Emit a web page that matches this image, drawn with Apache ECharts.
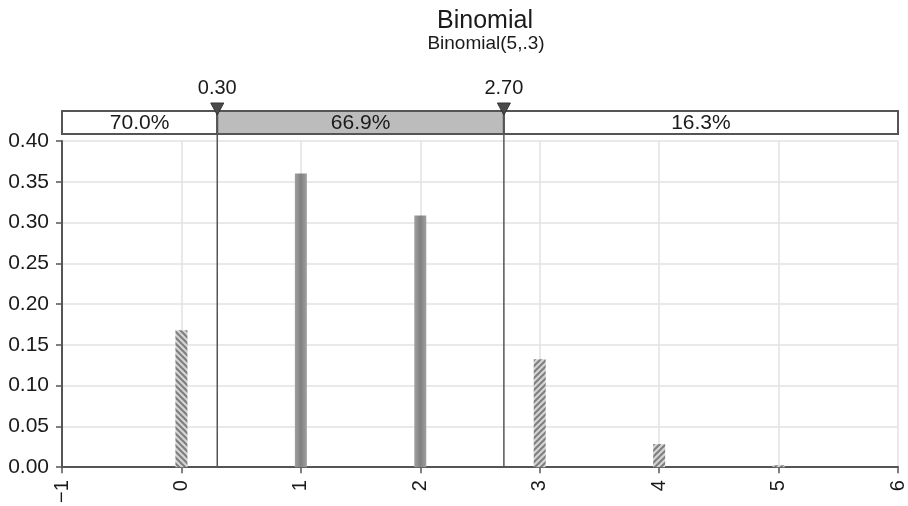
<!DOCTYPE html>
<html>
<head>
<meta charset="utf-8">
<title>Binomial</title>
<script src="https://cdn.jsdelivr.net/npm/echarts@6/dist/echarts.min.js"></script>
<style>
  html, body { margin: 0; padding: 0; background: #fff; }
  #chart { width: 908px; height: 506px; }
</style>
</head>
<body>
<div id="chart"></div>
<script>
// Binomial(5, 0.3) probability mass function
const outcomes = [0, 1, 2, 3, 4, 5];
const probabilities = [0.16807, 0.36015, 0.3087, 0.1323, 0.02835, 0.00243];

// Interval cut-offs and the shares shown in the band above the plot
const cutoffs = [0.30, 2.70];
const cutoffLabels = ['0.30', '2.70'];
const regionBounds = [[-1, 0.30], [0.30, 2.70], [2.70, 6]];
const regionLabels = ['70.0%', '66.9%', '16.3%'];
const regionShaded = [false, true, false];

const xMin = -1, xMax = 6, xStep = 1;
const yMin = 0, yMax = 0.40, yStep = 0.05;

const FONT = '"Liberation Sans", Arial, Helvetica, sans-serif';

// Hatched fills for bars outside the interval
function hatch(direction) {
  const s = 6;
  const c = document.createElement('canvas');
  c.width = s; c.height = s;
  const g = c.getContext('2d');
  g.fillStyle = '#d4d4d4';
  g.fillRect(0, 0, s, s);
  g.strokeStyle = '#7e7e7e';
  g.lineWidth = 2;
  g.beginPath();
  if (direction === 'back') {
    g.moveTo(-1, -1); g.lineTo(s + 1, s + 1);
    g.moveTo(-1, s - 1); g.lineTo(1, s + 1);
    g.moveTo(s - 1, -1); g.lineTo(s + 1, 1);
  } else {
    g.moveTo(-1, s + 1); g.lineTo(s + 1, -1);
    g.moveTo(-1, 1); g.lineTo(1, -1);
    g.moveTo(s - 1, s + 1); g.lineTo(s + 1, s - 1);
  }
  g.stroke();
  return { image: c, repeat: 'repeat' };
}
const hatchLeft = hatch('back');
const hatchRight = hatch('fwd');
const solidFill = {
  type: 'linear', x: 0, y: 0, x2: 1, y2: 0,
  colorStops: [
    { offset: 0, color: '#a0a0a0' },
    { offset: 0.5, color: '#808080' },
    { offset: 1, color: '#a0a0a0' }
  ]
};

const barData = outcomes.map((x, i) => {
  let color;
  if (x < cutoffs[0]) color = hatchLeft;
  else if (x > cutoffs[1]) color = hatchRight;
  else color = solidFill;
  return { value: [x, probabilities[i]], itemStyle: { color: color } };
});

const chart = echarts.init(document.getElementById('chart'), null, { renderer: 'canvas' });

const BAND_OFFSET = 30;  // band top above the plot area
const BAND_HEIGHT = 23;

chart.setOption({
  animation: false,
  backgroundColor: '#fff',
  textStyle: { fontFamily: FONT },
  graphic: [
    {
      type: 'text', x: 485, y: 9,
      style: { text: 'Binomial', font: '25px ' + FONT, fill: '#1a1a1a', textAlign: 'center', textVerticalAlign: 'top' }
    },
    {
      type: 'text', x: 486, y: 34,
      style: { text: 'Binomial(5,.3)', font: '19px ' + FONT, fill: '#1a1a1a', textAlign: 'center', textVerticalAlign: 'top' }
    }
  ],
  grid: { left: 62, right: 5, top: 141, bottom: 37, containLabel: false },
  xAxis: {
    type: 'value', min: xMin, max: xMax, interval: xStep,
    axisLine: { show: true, onZero: false, lineStyle: { color: '#555', width: 2 } },
    axisTick: { show: true, length: 6, lineStyle: { color: '#555', width: 1.5 } },
    axisLabel: {
      rotate: 90, margin: 13, fontSize: 20, color: '#1a1a1a', fontFamily: FONT,
      formatter: v => (v < 0 ? '\u2212' + Math.abs(v) : String(v))
    },
    splitLine: { show: true, lineStyle: { color: '#e2e2e2', width: 1.5 } }
  },
  yAxis: {
    type: 'value', min: yMin, max: yMax, interval: yStep,
    axisLine: { show: true, onZero: false, lineStyle: { color: '#555', width: 2 } },
    axisTick: { show: true, length: 6, lineStyle: { color: '#555', width: 1.5 } },
    axisLabel: { margin: 13, fontSize: 21, color: '#1a1a1a', fontFamily: FONT, formatter: v => v.toFixed(2) },
    splitLine: { show: true, lineStyle: { color: '#e2e2e2', width: 1.5 } }
  },
  series: [
    {
      type: 'bar',
      name: 'P(X = x)',
      barWidth: 12,
      data: barData,
      z: 3
    },
    {
      // Band with the share of probability in each region
      type: 'custom',
      name: 'regions',
      clip: false,
      z: 4,
      data: regionBounds,
      encode: { x: [0, 1] },
      renderItem: function (params, api) {
        const i = params.dataIndex;
        const x0 = api.coord([api.value(0), 0])[0];
        const x1 = api.coord([api.value(1), 0])[0];
        const top = params.coordSys.y - BAND_OFFSET;
        return {
          type: 'group',
          children: [
            {
              type: 'rect',
              shape: { x: x0, y: top, width: x1 - x0, height: BAND_HEIGHT },
              style: { fill: regionShaded[i] ? '#bcbcbc' : '#fff', stroke: '#555', lineWidth: 2 }
            },
            {
              type: 'text',
              style: {
                text: regionLabels[i], x: (x0 + x1) / 2, y: top + BAND_HEIGHT / 2 + 1,
                align: 'center', verticalAlign: 'middle', font: '21px ' + FONT, fill: '#1a1a1a'
              }
            }
          ]
        };
      }
    },
    {
      // Cut-off markers: label, triangle and vertical rule
      type: 'custom',
      name: 'cutoffs',
      clip: false,
      z: 5,
      data: cutoffs.map(v => [v, 0]),
      encode: { x: 0, y: 1 },
      renderItem: function (params, api) {
        const i = params.dataIndex;
        const p = api.coord([api.value(0), 0]);
        const x = p[0];
        const bandTop = params.coordSys.y - BAND_OFFSET;
        return {
          type: 'group',
          children: [
            {
              type: 'line',
              shape: { x1: x, y1: bandTop - 6, x2: x, y2: p[1] },
              style: { stroke: '#555', lineWidth: 1.5 }
            },
            {
              type: 'polygon',
              shape: { points: [[x - 6.5, bandTop - 8], [x + 6.5, bandTop - 8], [x, bandTop + 4]] },
              style: { fill: '#4a4a4a', stroke: '#333', lineWidth: 1 }
            },
            {
              type: 'text',
              style: {
                text: cutoffLabels[i], x: x, y: bandTop - 23,
                align: 'center', verticalAlign: 'middle', font: '20px ' + FONT, fill: '#1a1a1a'
              }
            }
          ]
        };
      }
    }
  ]
});
</script>
</body>
</html>
